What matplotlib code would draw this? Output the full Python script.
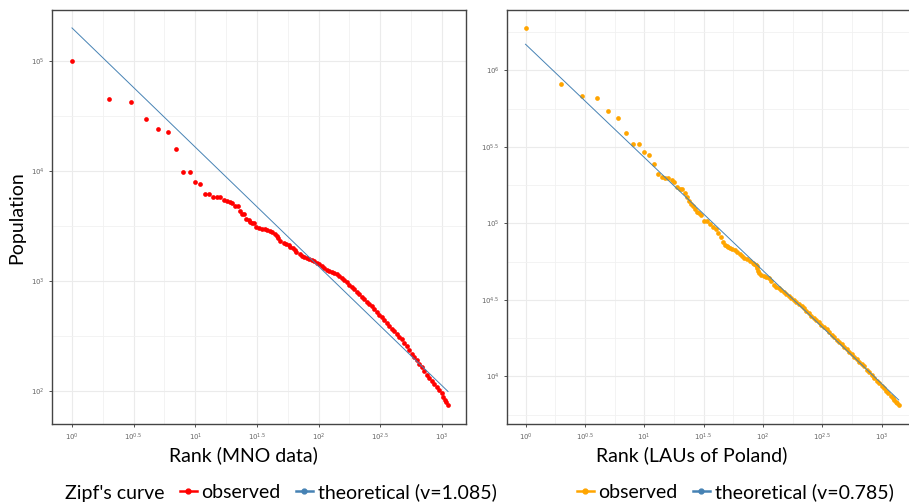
import matplotlib.pyplot as plt
from matplotlib.lines import Line2D

plt.rcParams['font.family'] = ['Lato', 'DejaVu Sans']

# observed city sizes by rank (MNO data)
mno_rank = [1, 2, 3, 4, 5, 6, 7, 8, 9, 10, 11, 12, 13, 14, 15, 16, 17, 18, 19, 20,
            21, 22, 23, 24, 25, 26, 27, 28, 29, 30, 31, 33, 35, 37, 38, 40, 42, 44, 46, 47,
            49, 52, 54, 57, 59, 62, 64, 66, 70, 73, 76, 80, 84, 88, 92, 97, 101, 106, 111, 116,
            122, 128, 134, 140, 147, 154, 161, 169, 177, 186, 194, 204, 214, 224, 234, 246, 257, 270, 282, 296,
            310, 325, 340, 357, 374, 392, 410, 430, 450, 472, 495, 518, 543, 569, 596, 625, 655, 686, 719, 753,
            789, 827, 866, 908, 951, 996, 1027, 1060, 1086, 1114]
mno_pop = [100000, 45000, 42400, 30000, 24000, 22600, 15700, 9700, 9700, 7900, 7620, 6180, 6180, 5830, 5750, 5750, 5450, 5370, 5220, 5080,
           4840, 4780, 4360, 4070, 4060, 3640, 3560, 3460, 3400, 3350, 3076, 3013, 2992, 2970, 2917, 2866, 2769, 2675, 2555, 2443,
           2320, 2202, 2160, 2125, 2055, 1983, 1913, 1847, 1764, 1688, 1646, 1608, 1579, 1552, 1508, 1467, 1421, 1378, 1324, 1272,
           1243, 1215, 1182, 1151, 1103, 1058, 1015, 973, 929, 888, 843, 799, 759, 720, 685, 651, 618, 587, 554, 523,
           494, 466, 440, 415, 392, 370, 350, 330, 312, 294, 275, 257, 237, 219, 205, 191, 177, 164, 152, 141,
           132, 123, 116, 109, 102, 95, 89, 83, 79, 75]
mno_theo_rank = [1, 1120]
mno_theo_pop = [200000, 99]

# observed LAU sizes by rank (Poland)
lau_rank = [1, 2, 3, 4, 5, 6, 7, 8, 9, 10, 11, 12, 13, 14, 15, 16, 17, 18, 19, 20,
            21, 22, 23, 24, 25, 26, 27, 28, 29, 30, 32, 34, 36, 38, 40, 42, 44, 46, 48, 50,
            51, 53, 55, 58, 61, 64, 67, 70, 74, 78, 82, 84, 87, 88, 89, 90, 91, 92, 97, 102,
            107, 112, 118, 124, 130, 137, 143, 151, 158, 166, 174, 183, 192, 202, 212, 222, 233, 245, 257, 270,
            283, 297, 312, 328, 344, 361, 379, 398, 418, 439, 461, 484, 508, 533, 560, 588, 617, 648, 680, 714,
            750, 787, 826, 868, 911, 956, 1004, 1054, 1098, 1144, 1192, 1242, 1278, 1316, 1355, 1396]
lau_pop = [1880000, 810000, 676000, 659000, 545000, 487000, 391000, 331000, 331000, 294000,
           279000, 244000, 210000, 200000, 198000, 197000, 192000, 186000, 173000, 168000,
           167000, 157000, 149000, 139000, 133000, 130000, 124000, 119000, 116000, 113000,
           104000, 103500, 98900, 95000, 91800, 86000, 81000, 76000, 72000, 70500,
           69700, 68650, 67600, 66400, 65200, 63200, 61100, 59700, 58200, 56700,
           55300, 54300, 53400, 53200, 52600, 50800, 48900, 47100, 46200, 45300,
           44500, 43700, 41650, 39600, 38500, 37550, 36650, 35700, 34600, 33550,
           32500, 31500, 30550, 29600, 28720, 27800, 26800, 25810, 24860, 23900,
           23200, 22470, 21770, 21100, 20250, 19480, 18730, 18000, 17380, 16760,
           16170, 15600, 15040, 14480, 13950, 13400, 12940, 12460, 12000, 11600,
           11060, 10590, 10140, 9700, 9350, 9000, 8670, 8400, 8040, 7740,
           7460, 7200, 7000, 6820, 6660, 6500]
lau_theo_rank = [1, 1396]
lau_theo_pop = [1480000, 7000]

x_ticks = [1, 10**0.5, 10, 10**1.5, 100, 10**2.5, 1000]
x_labels = ['$10^{0}$', '$10^{0.5}$', '$10^{1}$', '$10^{1.5}$', '$10^{2}$', '$10^{2.5}$', '$10^{3}$']
x_minor = [10**(k / 4) for k in range(-1, 14, 2)]

W, H = 909, 503
fig = plt.figure(figsize=(W / 100, H / 100), dpi=100)


def px_axes(x0, y0, x1, y1):
    return fig.add_axes([x0 / W, 1 - y1 / H, (x1 - x0) / W, (y1 - y0) / H])


def style(ax):
    ax.set_xscale('log')
    ax.set_yscale('log')
    ax.set_xticks(x_ticks)
    ax.set_xticklabels(x_labels)
    ax.set_xticks(x_minor, minor=True)
    ax.grid(which='major', color='#ebebeb', lw=0.8)
    ax.grid(which='minor', color='#f1f1f1', lw=0.6)
    ax.set_axisbelow(True)
    ax.tick_params(which='major', length=2.5, width=0.6, color='#333333',
                   labelsize=5, labelcolor='#666666', pad=3)
    ax.tick_params(which='minor', length=0)
    for s in ax.spines.values():
        s.set_color('#444444')
        s.set_linewidth(1.0)


ax1 = px_axes(52, 10, 466, 424)
style(ax1)
ax1.set_xlim(10**-0.162, 10**3.195)
ax1.set_ylim(10**1.70, 10**5.464)
ax1.set_yticks([100, 1000, 10000, 100000])
ax1.set_yticklabels(['$10^{2}$', '$10^{3}$', '$10^{4}$', '$10^{5}$'])
ax1.set_yticks([10**2.5, 10**3.5, 10**4.5], minor=True)
ax1.plot(mno_rank, mno_pop, 'o', color='red', ms=3.4, mew=0)
ax1.plot(mno_theo_rank, mno_theo_pop, color='#4682b4', lw=0.7)

ax2 = px_axes(507, 10, 910, 424)
style(ax2)
ax2.set_xlim(10**-0.156, 10**3.24)
ax2.set_ylim(10**3.688, 10**6.394)
ax2.set_yticks([10**4, 10**4.5, 10**5, 10**5.5, 10**6])
ax2.set_yticklabels(['$10^{4}$', '$10^{4.5}$', '$10^{5}$', '$10^{5.5}$', '$10^{6}$'])
ax2.set_yticks([10**(k / 4) for k in range(15, 26, 2)], minor=True)
ax2.plot(lau_rank, lau_pop, 'o', color='orange', ms=3.4, mew=0)
ax2.plot(lau_theo_rank, lau_theo_pop, color='#4682b4', lw=0.7)

fig.text(243 / W, 1 - 455 / H, 'Rank (MNO data)', fontsize=14, ha='center', va='center')
fig.text(692 / W, 1 - 455 / H, 'Rank (LAUs of Poland)', fontsize=14, ha='center', va='center')
fig.text(17 / W, 1 - 218 / H, 'Population', fontsize=14, rotation=90, ha='center', va='center')

# legends along the bottom
fig.text(65 / W, 1 - 493 / H, "Zipf's curve", fontsize=14, ha='left', va='center')
h1 = [Line2D([], [], color='red', lw=1.8, marker='o', ms=3.5),
      Line2D([], [], color='#4682b4', lw=1.8, marker='o', ms=3.5)]
fig.legend(h1, ['observed', 'theoretical (v=1.085)'], loc='center left',
           bbox_to_anchor=(180 / W, 1 - 492 / H), ncol=2, frameon=False, fontsize=14,
           handlelength=0.85, handletextpad=0.25, columnspacing=0.8, borderpad=0, borderaxespad=0)
h2 = [Line2D([], [], color='orange', lw=1.8, marker='o', ms=3.5),
      Line2D([], [], color='#4682b4', lw=1.8, marker='o', ms=3.5)]
fig.legend(h2, ['observed', 'theoretical (v=0.785)'], loc='center left',
           bbox_to_anchor=(577 / W, 1 - 492 / H), ncol=2, frameon=False, fontsize=14,
           handlelength=0.85, handletextpad=0.25, columnspacing=0.8, borderpad=0, borderaxespad=0)

fig.savefig('out.png', dpi=100)
